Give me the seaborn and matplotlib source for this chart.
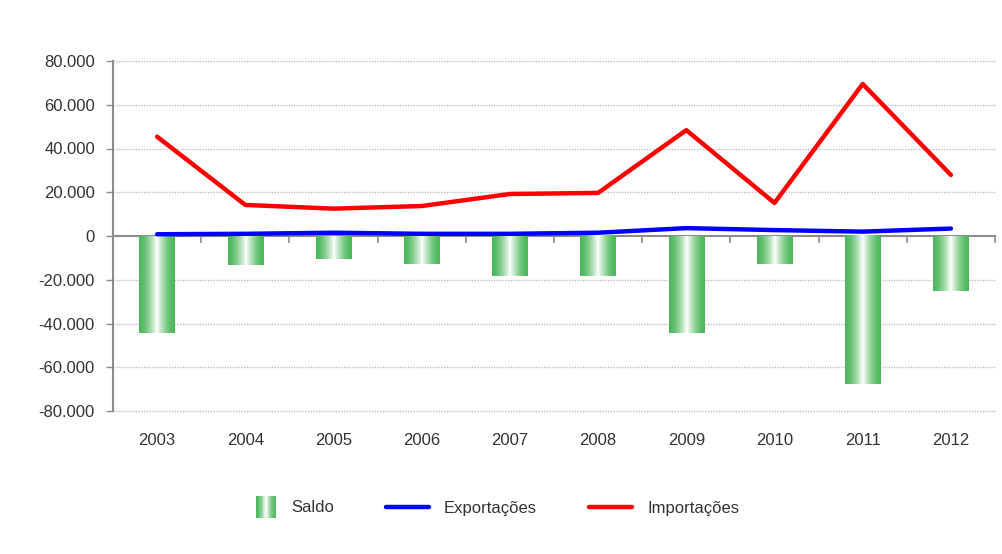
import numpy as np
import pandas as pd
import matplotlib
matplotlib.use("Agg")
import matplotlib.pyplot as plt
import seaborn as sns
from matplotlib.patches import Rectangle
from matplotlib.lines import Line2D
from matplotlib.legend_handler import HandlerBase
from matplotlib.ticker import FuncFormatter, FixedLocator

# Balança comercial (valores em milhares)
anos = ["2003", "2004", "2005", "2006", "2007", "2008", "2009", "2010", "2011", "2012"]
saldo = [-44300, -13300, -10500, -12900, -18300, -18400, -44300, -12800, -67700, -25000]
exportacoes = [800, 1000, 1500, 1000, 1000, 1500, 3600, 2700, 2000, 3400]
importacoes = [45400, 14200, 12500, 13700, 19200, 19700, 48400, 15100, 69500, 27900]
y_ticks = [-80000, -60000, -40000, -20000, 0, 20000, 40000, 60000, 80000]

VERDE = np.array([0.30, 0.72, 0.36])
BRANCO = np.array([1.0, 1.0, 1.0])
TEXTO = "#333333"
EIXO = "#8c8c8c"

sns.set_theme(style="white")
plt.rcParams["font.family"] = ["Liberation Sans", "DejaVu Sans"]


def gradiente(n):
    t = np.linspace(0, 1, n)
    w = np.clip(1 - np.abs(2 * t - 1), 0, 1) ** 1.6
    return VERDE[None, :] * (1 - w[:, None]) + BRANCO[None, :] * w[:, None]


df = pd.DataFrame({"ano": anos, "saldo": saldo,
                   "exp": exportacoes, "imp": importacoes})
df["pos"] = np.arange(len(anos))

fig = plt.figure(figsize=(10.03, 5.54), dpi=100)
ax = fig.add_axes([113 / 1003, 1 - 411 / 554, 882 / 1003, 350 / 554])

sns.barplot(data=df, x="ano", y="saldo", width=0.4, color=VERDE, ax=ax,
            zorder=2)

# Preenchimento em degradê nas colunas
cores = gradiente(64)
for p in ax.patches:
    x0, y0 = p.get_x(), p.get_y()
    w, h = p.get_width(), p.get_height()
    p.set_facecolor("none")
    p.set_edgecolor("none")
    ax.imshow(cores[None, :, :], extent=(x0, x0 + w, y0, y0 + h),
              aspect="auto", interpolation="bilinear", zorder=2)

sns.lineplot(data=df, x="pos", y="exp", color="#0000ff", linewidth=3.2,
             ax=ax, zorder=4)
sns.lineplot(data=df, x="pos", y="imp", color="#ff0000", linewidth=3.2,
             ax=ax, zorder=3)

ax.set_xlim(-0.5, len(anos) - 0.5)
ax.set_ylim(-80000, 80000)
ax.set_xlabel("")
ax.set_ylabel("")

# Eixo Y
ax.yaxis.set_major_locator(FixedLocator(y_ticks))
ax.yaxis.set_major_formatter(FuncFormatter(
    lambda v, _: "0" if v == 0 else f"{int(v):,}".replace(",", ".")))
ax.tick_params(axis="y", length=5, width=1, color=EIXO, labelsize=12,
               labelcolor=TEXTO, pad=8, left=True, direction="out")
for yv in y_ticks:
    if yv != 0:
        ax.axhline(yv, color="#bdbdbd", linewidth=1.0, linestyle=(0, (1, 1)),
                   zorder=0, clip_on=False)

for s in ["top", "right"]:
    ax.spines[s].set_visible(False)
ax.spines["left"].set_color(EIXO)
ax.spines["left"].set_linewidth(1.5)
ax.spines["bottom"].set_position(("data", 0))
ax.spines["bottom"].set_color(EIXO)
ax.spines["bottom"].set_linewidth(1.5)
ax.spines["bottom"].set_zorder(1)

# Marcas entre categorias no eixo zero
ax.set_xticks(np.arange(len(anos) + 1) - 0.5)
ax.set_xticklabels([])
ax.tick_params(axis="x", length=5, width=1.2, color=EIXO, bottom=True,
               direction="out")

# Rótulos dos anos na base
sec = ax.secondary_xaxis(location=0)
sec.set_xticks(df["pos"].to_numpy())
sec.set_xticklabels(anos)
sec.tick_params(length=0, labelsize=12, labelcolor=TEXTO, pad=16)
sec.spines["bottom"].set_visible(False)


class HandlerGradiente(HandlerBase):
    def create_artists(self, legend, orig_handle, xdescent, ydescent,
                       width, height, fontsize, trans):
        n = 24
        pw = width * 0.47
        ph = height * 1.9
        x0 = -xdescent + width - pw
        y0 = -ydescent + height / 2 - ph / 2
        cs = gradiente(n)
        arts = []
        for i in range(n):
            arts.append(Rectangle((x0 + i * pw / n, y0), pw / n * 1.05, ph,
                                  facecolor=cs[i], edgecolor="none",
                                  transform=trans))
        return arts


h_saldo = Rectangle((0, 0), 1, 1)
h_exp = Line2D([], [], color="#0000ff", linewidth=3.2)
h_imp = Line2D([], [], color="#ff0000", linewidth=3.2)
leg = fig.legend([h_saldo, h_exp, h_imp], ["Saldo", "Exportações", "Importações"],
                 handler_map={Rectangle: HandlerGradiente()},
                 loc="center", bbox_to_anchor=(486 / 1003, 1 - 508 / 554),
                 ncol=3, frameon=False, fontsize=12, handlelength=2.6,
                 handletextpad=0.9, columnspacing=3.1)
for t in leg.get_texts():
    t.set_color(TEXTO)

fig.savefig("out.png", dpi=100)
